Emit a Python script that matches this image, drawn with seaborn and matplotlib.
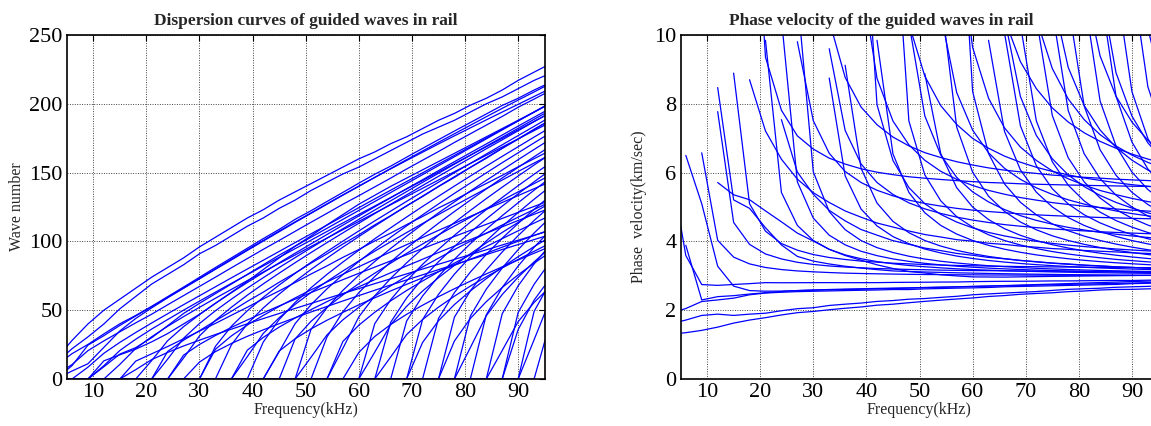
import numpy as np
import pandas as pd
import matplotlib
matplotlib.use("Agg")
import matplotlib.pyplot as plt
import seaborn as sns

sns.set_style("white")
plt.rcParams["font.family"] = ["Liberation Serif", "DejaVu Serif"]

# ---------------- data ----------------
FREQ_KHZ = [3, 6, 9, 12, 15, 18, 21, 24, 27, 30, 33, 36, 39, 42, 45, 48,
            51, 54, 57, 60, 63, 66, 69, 72, 75, 78, 81, 84, 87, 90, 93, 96]

# wave number (rad/m) of each guided mode; lists end at 96 kHz,
# points below the cut-off frequency are zero
k_m1 = [14.5, 28, 40, 50, 58, 66, 74, 81, 88, 96, 103, 110, 117, 123, 130, 136,
        142, 148, 154, 160, 165, 171, 176, 182, 188, 193, 199, 204, 210, 217, 223, 229]
k_m2 = [11.8, 22, 30.6, 40, 51, 60, 69, 76, 83, 91, 97, 104, 111, 117, 124, 130,
        137, 143, 149, 154, 160, 166, 172, 178, 183, 188, 194, 200, 205, 211, 217, 222]
k_m3 = [9.9, 18.4, 25.1, 32.8, 40.1, 46.2, 52.8, 59.8, 66.8, 73.9, 81, 88, 95, 102, 108.7, 116,
        122.3, 129, 135.6, 142.3, 148.8, 154.7, 161.2, 167.6, 173.9, 180.2, 186.4, 192.6, 198.8, 204, 210, 215.4]
k_m4 = [0, 9.7, 24.6, 31.5, 38.9, 45.8, 52.6, 59.3, 66, 72.8, 79.7, 86.5, 93.4, 100.2, 107, 113.8,
        120.4, 127, 133.6, 140, 146.5, 153, 159.4, 165.7, 172, 178.2, 184.4, 190.6, 196.7, 202.7, 208.6, 214.6]
k_m5 = [3.0, 10.5, 20.6, 27.7, 34.3, 40.8, 47.1, 53.9, 60.6, 67.3, 74, 80.8, 87.5, 94.2, 100.7, 107.3,
        113.9, 120.4, 127, 133.2, 139.6, 146, 152.6, 159, 165.3, 171.9, 178.2, 184.5, 190.8, 197.5, 203.4, 209.5]
k_m6 = [0, 5.8, 11.1, 23, 34.9, 44, 51.7, 59, 66, 73, 80, 87, 93.9, 100.7, 107.5, 114.2,
        120.7, 127.3, 133.8, 140.2, 146.5, 152.7, 158.8, 164.8, 170.8, 176.7, 182.5, 188.3, 194, 199.6, 205.3, 211]
k_x1 = [13.2, 17.6, 21.7, 27, 33, 40, 47, 55, 63, 71, 79.5, 88, 96.5, 104, 112, 119.5,
        127, 133.5, 140, 146, 152, 158, 164, 170, 176, 182, 188, 194, 200]
k_x2 = [8.9, 18.1, 22.8, 30, 38.7, 47.6, 55, 62, 69, 76, 83, 90, 96.5, 103, 109.5, 116,
        122.5, 129, 135.5, 142, 148.5, 155, 161.5, 168, 174.5, 181, 187.5, 194, 200.5]
k_x3 = [13, 18.3, 23.6, 29.2, 34.8, 40.4, 46.3, 52.1, 58.2, 64, 70.1, 76.3, 82.2, 88.4,
        94.1, 100.3, 106, 112.2, 118.1, 124.3, 130, 136.2, 142.1, 148, 154.2, 160.1, 166]
k_x4 = [20, 28.2, 35.1, 42.3, 49.2, 56.4, 63.1, 70.3, 77, 84.2, 90.9, 98.1, 104.8, 112,
        118.7, 125.9, 132.6, 139.8, 146.5, 153.7, 160.4, 167.6, 174.3, 181.5, 188.2]
k_c08 = [8.6, 18.7, 26.6, 33.8, 40.7, 47.4, 54.0, 60.5, 67.0, 73.5, 79.9, 86.3, 92.7, 99.1, 105.5,
         111.8, 118.2, 124.5, 130.9, 137.2, 143.5, 149.8, 156.2, 162.5, 168.8, 175.1, 181.4, 187.7, 194.0, 200.3]
k_c11 = [9.7, 20.7, 28.9, 36.3, 43.2, 50.0, 56.6, 63.1, 69.5, 75.8, 82.2, 88.4, 94.7, 100.9, 107.2,
         113.4, 119.6, 125.7, 131.9, 138.1, 144.2, 150.4, 156.5, 162.7, 168.8, 174.9, 181.1, 187.2, 193.3]
k_c14 = [10.6, 22.2, 30.7, 38.3, 45.3, 52.1, 58.7, 65.1, 71.5, 77.7, 84.0, 90.1, 96.3, 102.4,
         108.5, 114.5, 120.6, 126.6, 132.6, 138.6, 144.6, 150.6, 156.6, 162.6, 168.6, 174.5, 180.5, 186.4]
k_c17 = [6.8, 14.1, 19.3, 24.0, 28.2, 32.3, 36.2, 40.1, 43.9, 47.6, 51.3, 54.9, 58.5, 62.1,
         65.7, 69.3, 72.8, 76.4, 79.9, 83.4, 86.9, 90.4, 93.9, 97.4, 100.9, 104.4, 107.9]
k_c20 = [13.4, 27.8, 38.0, 46.8, 55.0, 62.7, 70.1, 77.3, 84.4, 91.4, 98.2, 105.0, 111.8,
         118.5, 125.1, 131.7, 138.3, 144.8, 151.4, 157.9, 164.4, 170.8, 177.3, 183.8, 190.2, 196.6]
k_c23 = [14.4, 29.6, 40.3, 49.6, 58.0, 66.0, 73.6, 81.0, 88.2, 95.3, 102.3, 109.2, 116.0,
         122.8, 129.5, 136.2, 142.9, 149.5, 156.1, 162.6, 169.2, 175.7, 182.2, 188.7, 195.2]
k_c24 = [17.3, 25.1, 31.6, 37.5, 42.9, 48.1, 53.1, 58.0, 62.8, 67.5, 72.2, 76.8, 81.3, 85.8,
         90.3, 94.8, 99.2, 103.6, 108.0, 112.4, 116.7, 121.1, 125.4, 129.8]
k_c26 = [15.2, 31.3, 42.6, 52.1, 60.9, 69.1, 76.9, 84.5, 91.9, 99.1, 106.2, 113.2, 120.2,
         127.0, 133.8, 140.6, 147.3, 154.0, 160.6, 167.3, 173.8, 180.4, 187.0, 193.5]
k_c28 = [12.3, 19.9, 25.8, 31.0, 35.7, 40.2, 44.5, 48.7, 52.7, 56.7, 60.6, 64.5, 68.3, 72.0,
         75.7, 79.5, 83.1, 86.8, 90.4, 94.1, 97.7, 101.3, 104.9]
k_c30 = [21.6, 31.3, 39.2, 46.2, 52.7, 58.9, 64.8, 70.5, 76.1, 81.6, 87.0, 92.4, 97.6,
         102.8, 108.0, 113.1, 118.2, 123.3, 128.3, 133.3, 138.3, 143.3]
k_c31 = [23.7, 38.3, 49.6, 59.3, 68.3, 76.7, 84.8, 92.6, 100.2, 107.6, 114.9, 122.0, 129.1,
         136.1, 143.0, 149.9, 156.7, 163.5, 170.2, 176.9, 183.6, 190.3]
k_c34 = [24.8, 40.0, 51.6, 61.7, 70.9, 79.6, 87.8, 95.8, 103.5, 111.1, 118.5, 125.7, 132.9,
         140.0, 147.0, 153.9, 160.8, 167.7, 174.5, 181.3, 188.0]
k_c36 = [20.9, 30.2, 37.7, 44.3, 50.4, 56.2, 61.7, 67.0, 72.2, 77.2, 82.2, 87.0, 91.9, 96.6,
         101.3, 105.9, 110.6, 115.2, 119.7, 124.2]
k_c38 = [16.2, 33.1, 44.5, 54.2, 62.9, 70.9, 78.5, 85.8, 92.9, 99.7, 106.4, 113.0, 119.5,
         125.9, 132.2, 138.4, 144.6, 150.8, 156.9, 162.9]
k_c40 = [26.8, 43.2, 55.6, 66.3, 76.0, 85.0, 93.6, 101.9, 109.9, 117.7, 125.4, 132.8, 140.2,
         147.5, 154.7, 161.8, 168.8, 175.8, 182.7]
k_c42 = [20.3, 29.2, 36.4, 42.7, 48.4, 53.9, 59.0, 64.0, 68.8, 73.5, 78.1, 82.6, 87.1, 91.4,
         95.8, 100.1, 104.3, 108.5]
k_c44 = [19.8, 40.2, 54.0, 65.5, 75.9, 85.4, 94.4, 103.0, 111.3, 119.3, 127.2, 134.9, 142.4,
         149.8, 157.2, 164.4, 171.6, 178.7]
k_c45 = [29.1, 41.9, 52.1, 61.1, 69.3, 76.9, 84.2, 91.3, 98.1, 104.7, 111.2, 117.5, 123.8,
         129.9, 136.0, 142.0, 148.0]
k_c48 = [36.1, 51.8, 64.4, 75.4, 85.4, 94.9, 103.8, 112.4, 120.7, 128.7, 136.6, 144.3, 151.9,
         159.4, 166.8, 174.1]
k_c50 = [15.8, 32.0, 43.0, 52.1, 60.2, 67.7, 74.7, 81.4, 87.8, 94.1, 100.1, 106.0, 111.9,
         117.6, 123.2, 128.7]
k_c52 = [30.5, 48.9, 62.7, 74.5, 85.1, 95.0, 104.3, 113.2, 121.7, 130.0, 138.1, 146.1, 153.8,
         161.5, 169.0]
k_c54 = [27.3, 39.1, 48.5, 56.8, 64.3, 71.2, 77.9, 84.2, 90.3, 96.3, 102.0, 107.7, 113.3, 118.7]
k_c56 = [22.3, 45.1, 60.4, 73.1, 84.4, 94.8, 104.5, 113.7, 122.5, 131.1, 139.4, 147.5, 155.5, 163.3]
k_c58 = [19.3, 30.9, 39.6, 47.0, 53.6, 59.8, 65.6, 71.1, 76.4, 81.5, 86.5, 91.4, 96.2]
k_c60 = [40.2, 57.6, 71.3, 83.3, 94.2, 104.4, 114.0, 123.1, 131.9, 140.5, 148.8, 156.9]
k_c62 = [19.5, 39.5, 52.8, 63.9, 73.6, 82.6, 91.0, 98.9, 106.5, 113.8, 121.0, 127.9]
k_c63 = [41.2, 58.9, 73.0, 85.2, 96.3, 106.6, 116.3, 125.6, 134.6, 143.3, 151.7]
k_c65 = [16.0, 32.3, 43.2, 52.2, 60.2, 67.5, 74.3, 80.7, 86.9, 92.8, 98.6]
k_c66 = [42.1, 60.3, 74.6, 87.0, 98.3, 108.8, 118.7, 128.1, 137.2, 146.0]
k_c69 = [43.1, 61.5, 76.2, 88.8, 100.3, 111.0, 121.0, 130.6, 139.8]
k_c70 = [26.5, 42.3, 54.1, 64.0, 72.9, 81.2, 88.9, 96.2, 103.2]
k_c72 = [44.0, 62.8, 77.7, 90.6, 102.3, 113.1, 123.3, 133.0]
k_c75 = [44.9, 64.1, 79.2, 92.3, 104.2, 115.2, 125.5]
k_c76 = [27.6, 44.0, 56.2, 66.5, 75.7, 84.2, 92.1]
k_c78 = [45.7, 65.3, 80.7, 94.0, 106.1, 117.2]
k_c80 = [22.8, 46.0, 61.4, 74.0, 85.1, 95.3]
k_c81 = [46.6, 66.5, 82.1, 95.7, 107.9]
k_c84 = [47.4, 67.7, 83.6, 97.3]
k_c86 = [20.7, 41.7, 55.6, 67.0]
k_c87 = [48.3, 68.8, 85.0]
k_c88 = [35.9, 57.3, 73.1]
k_c90 = [49.1, 70.0]
k_c92 = [28.5, 57.4]
k_c94 = [40.8]

MODES = {
    "m1": k_m1, "m2": k_m2, "m3": k_m3, "m4": k_m4, "m5": k_m5, "m6": k_m6,
    "x1": k_x1, "x2": k_x2, "x3": k_x3, "x4": k_x4,
    "c08": k_c08, "c11": k_c11, "c14": k_c14, "c17": k_c17, "c20": k_c20,
    "c23": k_c23, "c24": k_c24, "c26": k_c26, "c28": k_c28, "c30": k_c30,
    "c31": k_c31, "c34": k_c34, "c36": k_c36, "c38": k_c38, "c40": k_c40,
    "c42": k_c42, "c44": k_c44, "c45": k_c45, "c48": k_c48, "c50": k_c50,
    "c52": k_c52, "c54": k_c54, "c56": k_c56, "c58": k_c58, "c60": k_c60,
    "c62": k_c62, "c63": k_c63, "c65": k_c65, "c66": k_c66, "c69": k_c69,
    "c70": k_c70, "c72": k_c72, "c75": k_c75, "c76": k_c76, "c78": k_c78,
    "c80": k_c80, "c81": k_c81, "c84": k_c84, "c86": k_c86, "c87": k_c87,
    "c88": k_c88, "c90": k_c90, "c92": k_c92, "c94": k_c94,
}

rows = []
for name, vals in MODES.items():
    full = [0.0] * (len(FREQ_KHZ) - len(vals)) + list(vals)
    for f, k in zip(FREQ_KHZ, full):
        rows.append((name, f, k))
df = pd.DataFrame(rows, columns=["mode", "freq", "k"])
dfv = df[df["k"] > 0].copy()
dfv["v"] = 2 * np.pi * dfv["freq"] / dfv["k"]   # phase velocity in km/s

# ---------------- figure ----------------
W, H = 1151, 426
fig = plt.figure(figsize=(W / 100, H / 100), dpi=100)
ax1 = fig.add_axes([66.7 / W, 47 / H, 478 / W, 344 / H])
ax2 = fig.add_axes([680.5 / W, 47 / H, 478 / W, 344 / H])

LINE = "#0000ff"
sns.lineplot(data=df, x="freq", y="k", units="mode", estimator=None,
             color=LINE, linewidth=0.9, legend=False, ax=ax1)
sns.lineplot(data=dfv, x="freq", y="v", units="mode", estimator=None,
             color=LINE, linewidth=0.9, legend=False, ax=ax2)

for ax in (ax1, ax2):
    ax.set_xlim(5, 95)
    ax.set_xticks([10, 20, 30, 40, 50, 60, 70, 80, 90])
    ax.grid(True, color="#444444", linestyle=(0, (1, 1.5)), linewidth=0.7)
    ax.set_axisbelow(True)
    ax.tick_params(direction="in", top=True, right=True, length=4, width=0.8,
                   labelsize=16, pad=3, colors="black")
    for s in ax.spines.values():
        s.set_color("black")
        s.set_linewidth(1.2)
        s.set_visible(True)
    ax.set_xlabel("Frequency(kHz)", fontsize=11.5, labelpad=0)

ax1.set_ylim(0, 250)
ax1.set_yticks([0, 50, 100, 150, 200, 250])
ax1.set_ylabel("Wave number", fontsize=11.5, labelpad=3)
ax1.set_title("Dispersion curves of guided waves in rail", fontsize=12.5,
              fontweight="bold", pad=7)

ax2.set_ylim(0, 10)
ax2.set_yticks([0, 2, 4, 6, 8, 10])
ax2.set_ylabel("Phase  velocity(km/sec)", fontsize=11.5, labelpad=5)
ax2.set_title("Phase velocity of the guided waves in rail", fontsize=12.5,
              fontweight="bold", pad=7)
ax2.title.set_position((0.42, 1.0))

fig.savefig("out.png", dpi=100)
